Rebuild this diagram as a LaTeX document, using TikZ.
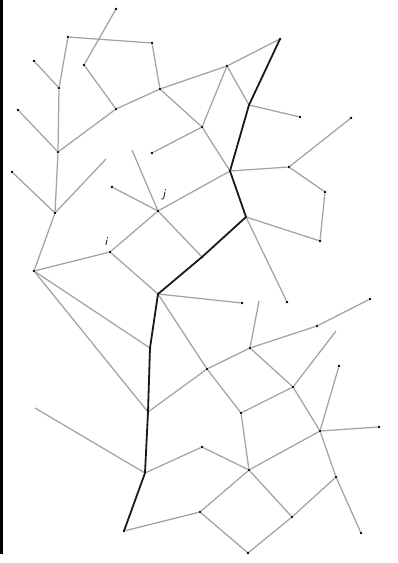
\documentclass[tikz,border=0pt]{standalone}
\begin{document}
\begin{tikzpicture}[x=1pt,y=-1pt]
\tikzset{
  dot/.style={circle,fill=black,inner sep=0pt,minimum size=2.6pt},
  edge/.style={draw=black!36,line width=1.25pt},
  path/.style={draw=black!90,line width=1.8pt,line join=round},
  lab/.style={inner sep=0pt,font=\large\sffamily\itshape}
}
\fill[white] (0,0) rectangle (398,563);
\useasboundingbox (0,0) rectangle (398,563);
\fill[black] (0,0) rectangle (3,554);
% nodes
\node[dot] (A) at (116,9) {};
\node[dot] (B) at (68,37) {};
\node[dot] (C) at (152,43) {};
\node[dot] (D) at (84,65) {};
\node[dot] (E) at (34,61) {};
\node[dot] (F) at (59,88) {};
\node[dot] (G) at (160,89) {};
\node[dot] (H) at (116,109) {};
\node[dot] (I) at (18,110) {};
\node[dot] (K) at (58,152) {};
\node[dot] (L) at (152,153) {};
\node[dot] (M) at (12,172) {};
\coordinate (lf1) at (106,159);
\coordinate (lf2) at (132,150);
\node[dot] (lj) at (112,187) {};
\node[dot] (N) at (227,66) {};
\node[dot] (O) at (280,39) {};
\coordinate (R) at (249,105);
\node[dot] (T) at (300,117) {};
\node[dot] (P) at (202,127) {};
\node[dot] (S) at (230,171) {};
\node[dot] (U) at (289,167) {};
\node[dot] (V) at (351,118) {};
\node[dot] (W) at (325,192) {};
\node[dot] (VV) at (320,241) {};
\coordinate (AA) at (246,217);
\node[dot] (WW) at (287,302) {};
\node[dot] (Q) at (55,213) {};
\node[dot] (j) at (158,211) {};
\node[dot] (i) at (110,252) {};
\node[dot] (X) at (34,271) {};
\node[dot] (Y) at (158,294) {};
\node[dot] (Z) at (202,257) {};
\node[dot] (BB) at (150,348) {};
\coordinate (CC) at (148,412);
\coordinate (DD) at (145,473);
\node[dot] (FF) at (124,531) {};
\coordinate (EE) at (35,408);
\node[dot] (XX) at (242,303) {};
\coordinate (lf3) at (259,301);
\node[dot] (UU) at (250,348) {};
\node[dot] (YY) at (317,326) {};
\node[dot] (ZZ) at (370,299) {};
\coordinate (lf4) at (336,331);
\node[dot] (HH) at (207,369) {};
\node[dot] (II) at (339,366) {};
\node[dot] (JJ) at (293,387) {};
\node[dot] (KK) at (241,413) {};
\node[dot] (LL) at (320,431) {};
\node[dot] (MM) at (379,427) {};
\node[dot] (NN) at (202,447) {};
\node[dot] (OO) at (249,470) {};
\node[dot] (PP) at (336,477) {};
\node[dot] (QQ) at (200,512) {};
\node[dot] (RR) at (292,517) {};
\node[dot] (SS) at (361,533) {};
\node[dot] (TT) at (248,553) {};
% labels
\node[lab] (li) at (106,242) {i};
\node[lab] (lj2) at (164,195) {j};
% gray edges
\draw[edge] (A) -- (D);
\draw[edge] (B) -- (C);
\draw[edge] (C) -- (G);
\draw[edge] (B) -- (F);
\draw[edge] (F) -- (K);
\draw[edge] (E) -- (F);
\draw[edge] (D) -- (H);
\draw[edge] (H) -- (G);
\draw[edge] (G) -- (N);
\draw[edge] (N) -- (O);
\draw[edge] (H) -- (K);
\draw[edge] (I) -- (K);
\draw[edge] (K) -- (Q);
\draw[edge] (M) -- (Q);
\draw[edge] (lf1) -- (Q);
\draw[edge] (G) -- (P);
\draw[edge] (L) -- (P);
\draw[edge] (N) -- (R);
\draw[edge] (R) -- (T);
\draw[edge] (N) -- (P);
\draw[edge] (P) -- (S);
\draw[edge] (S) -- (U);
\draw[edge] (U) -- (V);
\draw[edge] (U) -- (W);
\draw[edge] (W) -- (VV);
\draw[edge] (AA) -- (VV);
\draw[edge] (AA) -- (WW);
\draw[edge] (S) -- (j);
\draw[edge] (lf2) -- (j);
\draw[edge] (lj) -- (j);
\draw[edge] (Q) -- (X);
\draw[edge] (X) -- (i);
\draw[edge] (i) -- (j);
\draw[edge] (i) -- (Y);
\draw[edge] (j) -- (Z);
\draw[edge] (X) -- (BB);
\draw[edge] (X) -- (CC);
\draw[edge] (Y) -- (XX);
\draw[edge] (Y) -- (HH);
\draw[edge] (lf3) -- (UU);
\draw[edge] (UU) -- (YY);
\draw[edge] (YY) -- (ZZ);
\draw[edge] (UU) -- (HH);
\draw[edge] (UU) -- (JJ);
\draw[edge] (lf4) -- (JJ);
\draw[edge] (CC) -- (HH);
\draw[edge] (HH) -- (KK);
\draw[edge] (KK) -- (JJ);
\draw[edge] (JJ) -- (LL);
\draw[edge] (LL) -- (II);
\draw[edge] (LL) -- (MM);
\draw[edge] (LL) -- (OO);
\draw[edge] (KK) -- (OO);
\draw[edge] (LL) -- (PP);
\draw[edge] (PP) -- (SS);
\draw[edge] (PP) -- (RR);
\draw[edge] (OO) -- (RR);
\draw[edge] (OO) -- (QQ);
\draw[edge] (RR) -- (TT);
\draw[edge] (QQ) -- (TT);
\draw[edge] (NN) -- (OO);
\draw[edge] (DD) -- (NN);
\draw[edge] (FF) -- (QQ);
\draw[edge] (EE) -- (DD);
% thick path
\draw[path] (O.center) -- (R) -- (S.center) -- (AA) -- (Z.center) -- (Y.center) -- (BB.center) -- (CC) -- (DD) -- (FF.center);
\end{tikzpicture}
\end{document}
